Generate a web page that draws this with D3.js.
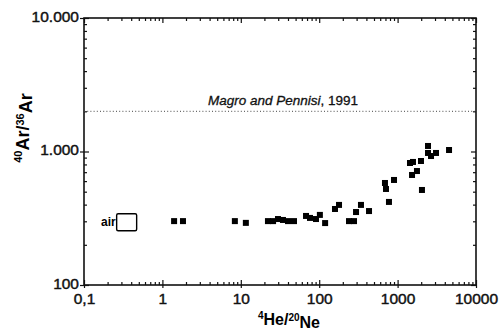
<!DOCTYPE html>
<html>
<head>
<meta charset="utf-8">
<script src="https://cdn.jsdelivr.net/npm/d3@7"></script>
<style>
  body { margin: 0; background: #fff; }
  svg { display: block; font-family: "Liberation Sans", Arial, sans-serif; }
</style>
</head>
<body>
<div id="chart"></div>
<script>
// 4He/20Ne vs 40Ar/36Ar
const heNe = [1.41, 1.83, 8.4, 11.6, 22.2, 25.8, 29.8, 34.5, 40, 47.7, 67.9, 76.3, 91, 102, 119,
  159, 179, 240, 278, 295, 341, 432, 690, 711, 776, 900, 1439, 1571, 1528, 1766, 1987, 2045,
  2443, 2443, 2669, 3090, 4530];
const arAr = [301, 301, 301, 292, 301, 301, 312, 307, 301, 301, 329, 318, 312, 335, 291,
  371, 398, 301, 301, 352, 398, 358, 581, 524, 419, 612, 820, 835, 667, 714, 849, 515,
  1100, 975, 925, 975, 1026];

const air = { he: 0.35, ar: 295.5, label: "air" };
const refLine = { value: 2000, author: "Magro and Pennisi", year: ", 1991" };

const xTickValues = [0.1, 1, 10, 100, 1000, 10000];
const xTickLabels = ["0,1", "1", "10", "100", "1000", "10000"];
const yTickValues = [100, 1000, 10000];
const yTickLabels = ["100", "1.000", "10.000"];

const width = 499, height = 335;
const plot = { left: 84, right: 476, top: 18, bottom: 285 };

const svg = d3.select("#chart").append("svg")
  .attr("width", width)
  .attr("height", height);

const x = d3.scaleLog().domain([0.1, 10000]).range([plot.left, plot.right]);
const y = d3.scaleLog().domain([100, 10000]).range([plot.bottom, plot.top]);

const minorX = x.ticks().filter(d => !xTickValues.includes(d));
const minorY = y.ticks().filter(d => !yTickValues.includes(d));

function styleAxis(g) {
  g.select(".domain").remove();
  g.selectAll(".tick line").attr("stroke", "#111").attr("stroke-width", 1.2);
  g.selectAll(".tick text")
    .attr("fill", "#111")
    .attr("stroke", "#111").attr("stroke-width", 0.45)
    .style("font-size", "15.5px")
    .style("font-family", "'Liberation Sans', Arial, sans-serif");
}

// bottom: labelled majors crossing the axis, minors inward
svg.append("g").attr("transform", `translate(0,${plot.bottom})`)
  .call(d3.axisBottom(x).tickValues(xTickValues).tickSize(3).tickPadding(5)
    .tickFormat((d, i) => xTickLabels[i]))
  .call(styleAxis);
svg.append("g").attr("transform", `translate(0,${plot.bottom})`)
  .call(d3.axisBottom(x).tickValues(xTickValues).tickSize(-5).tickFormat(""))
  .call(styleAxis);
svg.append("g").attr("transform", `translate(0,${plot.bottom})`)
  .call(d3.axisBottom(x).tickValues(minorX).tickSize(-3).tickFormat(""))
  .call(styleAxis);

// top
svg.append("g").attr("transform", `translate(0,${plot.top})`)
  .call(d3.axisTop(x).tickValues(xTickValues).tickSize(-5).tickFormat(""))
  .call(styleAxis);
svg.append("g").attr("transform", `translate(0,${plot.top})`)
  .call(d3.axisTop(x).tickValues(minorX).tickSize(-3).tickFormat(""))
  .call(styleAxis);

// left
svg.append("g").attr("transform", `translate(${plot.left},0)`)
  .call(d3.axisLeft(y).tickValues(yTickValues).tickSize(4).tickPadding(1)
    .tickFormat((d, i) => yTickLabels[i]))
  .call(styleAxis)
  .call(g => g.selectAll(".tick text").attr("dy", "0.2em"));
svg.append("g").attr("transform", `translate(${plot.left},0)`)
  .call(d3.axisLeft(y).tickValues(yTickValues).tickSize(-5).tickFormat(""))
  .call(styleAxis);
svg.append("g").attr("transform", `translate(${plot.left},0)`)
  .call(d3.axisLeft(y).tickValues(minorY).tickSize(-3).tickFormat(""))
  .call(styleAxis);

// right
svg.append("g").attr("transform", `translate(${plot.right},0)`)
  .call(d3.axisRight(y).tickValues(yTickValues).tickSize(-5).tickFormat(""))
  .call(styleAxis);
svg.append("g").attr("transform", `translate(${plot.right},0)`)
  .call(d3.axisRight(y).tickValues(minorY).tickSize(-3).tickFormat(""))
  .call(styleAxis);

// frame
svg.append("rect")
  .attr("x", plot.left).attr("y", plot.top)
  .attr("width", plot.right - plot.left).attr("height", plot.bottom - plot.top)
  .attr("fill", "none").attr("stroke", "#111").attr("stroke-width", 1.6);

// reference line
svg.append("line")
  .attr("x1", plot.left).attr("x2", plot.right)
  .attr("y1", y(refLine.value)).attr("y2", y(refLine.value))
  .attr("stroke", "#444").attr("stroke-width", 1)
  .attr("stroke-dasharray", "1,2.2");

const refText = svg.append("text")
  .attr("x", 208).attr("y", y(refLine.value) - 6)
  .attr("fill", "#111")
  .attr("stroke", "#111").attr("stroke-width", 0.3)
  .style("font-size", "13.5px");
refText.append("tspan").style("font-style", "italic").text(refLine.author);
refText.append("tspan").text(refLine.year);

// data points
svg.selectAll(".pt")
  .data(heNe.map((d, i) => [d, arAr[i]]))
  .join("rect")
  .attr("class", "pt")
  .attr("x", d => x(d[0]) - 3)
  .attr("y", d => y(d[1]) - 3)
  .attr("width", 6).attr("height", 6)
  .attr("fill", "#000");

// air
svg.append("rect")
  .attr("x", x(air.he) - 10).attr("y", y(air.ar) - 8.5)
  .attr("width", 20).attr("height", 17)
  .attr("rx", 1.5)
  .attr("fill", "#fff").attr("stroke", "#000").attr("stroke-width", 1.4);
svg.append("text")
  .attr("x", x(air.he) - 11).attr("y", y(air.ar) + 4)
  .attr("text-anchor", "end")
  .attr("fill", "#000")
  .style("font-size", "12px").style("font-weight", "bold")
  .text(air.label);

// axis titles
const xTitle = svg.append("text")
  .attr("x", 289).attr("y", 323)
  .attr("text-anchor", "middle")
  .style("font-size", "16px").style("font-weight", "bold");
xTitle.append("tspan").attr("dy", "-0.4em").style("font-size", "10px").text("4");
xTitle.append("tspan").attr("dy", "0.4em").text("He/");
xTitle.append("tspan").attr("dy", "-0.4em").style("font-size", "10px").text("20");
xTitle.append("tspan").attr("dy", "0.4em").text("Ne");

const yTitle = svg.append("text")
  .attr("transform", "translate(26,128) rotate(-90)")
  .attr("text-anchor", "middle")
  .style("font-size", "18px").style("font-weight", "bold");
yTitle.append("tspan").attr("dy", "-0.4em").style("font-size", "11px").text("40");
yTitle.append("tspan").attr("dy", "0.4em").text("Ar/");
yTitle.append("tspan").attr("dy", "-0.4em").style("font-size", "11px").text("36");
yTitle.append("tspan").attr("dy", "0.4em").text("Ar");
</script>
</body>
</html>
